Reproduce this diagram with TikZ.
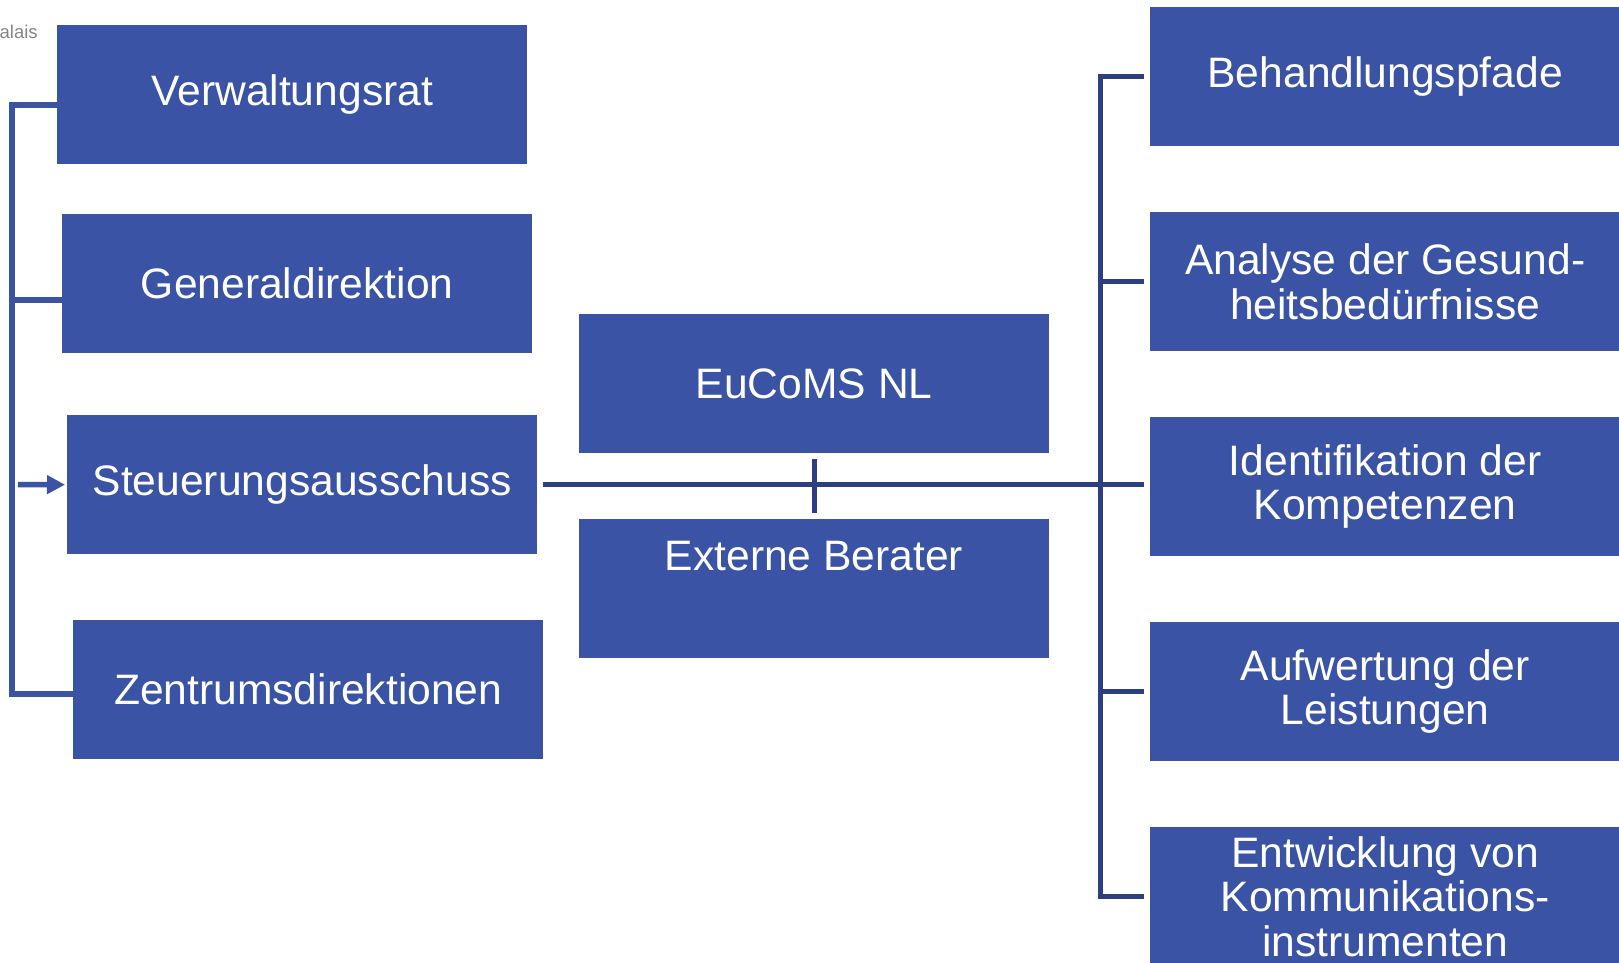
\documentclass[tikz,border=0pt]{standalone}
\usepackage{fontspec}
\setmainfont{Liberation Sans}
\usetikzlibrary{arrows.meta}
\definecolor{boxblue}{HTML}{3A53A4}
\definecolor{linenavy}{HTML}{2C3F80}
\definecolor{labelgray}{HTML}{858585}
\begin{document}
\begin{tikzpicture}[x=1pt,y=-1pt,
  box/.style={fill=boxblue, text=white, minimum width=470pt, minimum height=139pt,
    inner sep=0pt, anchor=north west, align=center, font=\fontsize{42.6}{44.5}\selectfont},
  leftline/.style={draw=boxblue, line width=5.5pt},
  navyline/.style={draw=linenavy, line width=5.5pt},
]
\useasboundingbox (0,0) rectangle (1619,963);
\clip (0,0) rectangle (1619,963);

% partial label at top left
\node[anchor=west, inner sep=0pt, text=labelgray, font=\fontsize{18.5}{20}\selectfont] (va) at (-0.5,32) {alais};

% left column
\node[box] (V) at (57,25)  {Verwaltungsrat};
\node[box] (G) at (62,214) {Generaldirektion};
\node[box] (S) at (67,415) {Steuerungsausschuss};
\node[box] (Z) at (73,620) {Zentrumsdirektionen};

% centre column
\node[box] (E) at (579,314) {EuCoMS NL};
\node[box] (X) at (579,519) {};
\node[inner sep=0pt, text=white, font=\fontsize{42.6}{44.5}\selectfont] (Xt) at (814,556) {Externe Berater};

% right column
\node[box] (R1) at (1150,7)   {Behandlungspfade};
\node[box] (R2) at (1150,212) {Analyse der Gesund-\\heitsbedürfnisse};
\node[box] (R3) at (1150,417) {Identifikation der\\Kompetenzen};
\node[box] (R4) at (1150,622) {Aufwertung der\\Leistungen};
\node[box] (R5) at (1150,827) {Entwicklung von\\Kommunikations-\\instrumenten};

% left bracket
\coordinate (lt) at (12,105);
\coordinate (lg) at (12,300);
\coordinate (lz) at (12,694);
\draw[leftline] (lt -| V.west) -- (lt) -- (lz) -- (lz -| Z.west);
\draw[leftline] (lg) -- (lg -| G.west);
\draw[leftline, -{Triangle[length=18pt,width=18pt]}, shorten >=2pt] (18,484.5) -- (S.west);

% main horizontal connector
\coordinate (rb) at (1100,0);
\draw[navyline, shorten <=6pt, shorten >=6pt] (S.east) -- (S.east -| R3.west);
\draw[navyline, line width=5pt, shorten <=6pt, shorten >=6pt] (E.south) -- (X.north);

% right bracket
\draw[navyline, line width=5pt, shorten <=6pt, shorten >=6pt]
  (R1.west) -- (rb |- R1.west) -- (rb |- R5.west) -- (R5.west);
\draw[navyline, line width=5pt, shorten >=6pt] (rb |- R2.west) -- (R2.west);
\draw[navyline, line width=5pt, shorten >=6pt] (rb |- R4.west) -- (R4.west);
\end{tikzpicture}
\end{document}
